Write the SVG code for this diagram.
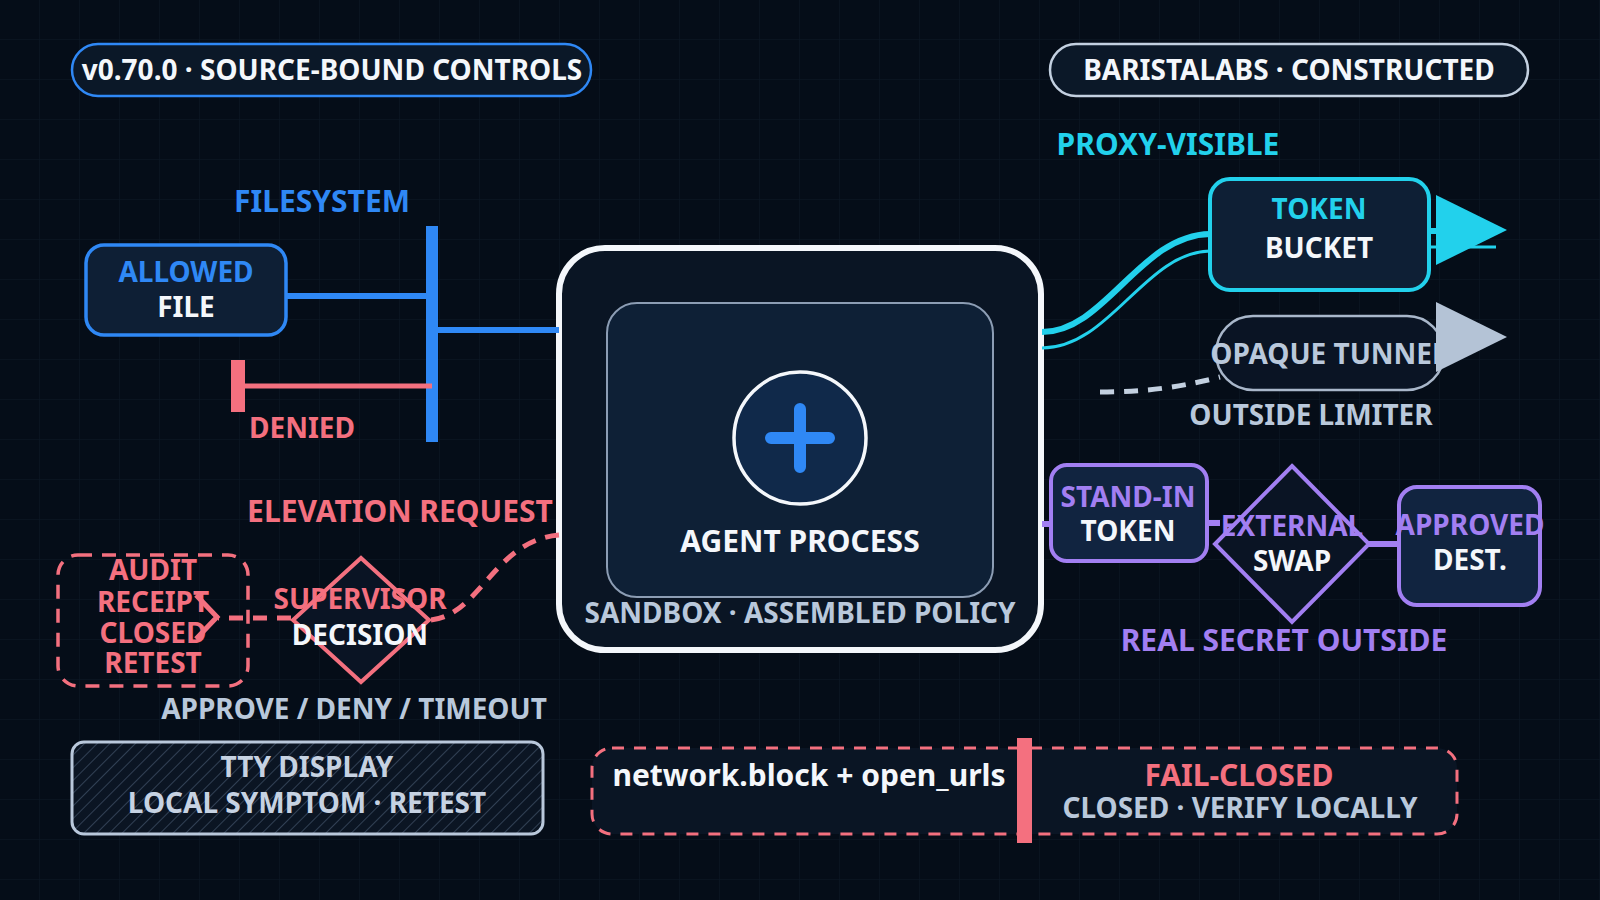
<svg xmlns="http://www.w3.org/2000/svg" width="1600" height="900" viewBox="0 0 1600 900">
<style>
text{font-family:"Noto Sans","Open Sans","DejaVu Sans",sans-serif;font-weight:700;text-anchor:middle}
.t30{font-size:30px}
.t28{font-size:28px}
.white{fill:#f4f7fb}
.blue{fill:#2f88f5}
.red{fill:#f4707f}
.cyan{fill:#22d1ec}
.purple{fill:#a27ff2}
.grey{fill:#b9c8db}
.node{fill:#0e1f35}
.dark{fill:#0a1424}
</style>
<defs>
<pattern id="grid" width="40" height="40" patternUnits="userSpaceOnUse">
<path d="M40 0V40M0 40H40" fill="none" stroke="#0d1927" stroke-width="1"/>
</pattern>
<pattern id="hatch" width="9" height="9" patternUnits="userSpaceOnUse" patternTransform="rotate(45)">
<rect width="9" height="9" fill="#0b1523"/>
<line x1="0" y1="0" x2="0" y2="9" stroke="#3a4b60" stroke-width="1.6"/>
</pattern>
</defs>
<rect width="1600" height="900" fill="#050d18"/>
<rect width="1600" height="900" fill="url(#grid)"/>

<g id="badge-version">
<rect x="72" y="44" width="519" height="52" rx="26" fill="#0b1828" stroke="#2f88f5" stroke-width="2.5"/>
<text class="t28 white" x="332" y="80">v0.70.0 · SOURCE-BOUND CONTROLS</text>
</g>
<g id="badge-brand">
<rect x="1050" y="44" width="478" height="52" rx="26" fill="#0b1828" stroke="#c3d0e0" stroke-width="2.5"/>
<text class="t28 white" x="1289" y="80">BARISTALABS · CONSTRUCTED</text>
</g>

<g id="label-filesystem"><text class="t30 blue" x="322" y="212">FILESYSTEM</text></g>
<g id="allowed-file">
<rect class="node" x="86" y="245" width="200" height="90" rx="18" stroke="#2f88f5" stroke-width="3.5"/>
<text class="t28 blue" x="186" y="282">ALLOWED</text>
<text class="t28 white" x="186" y="317">FILE</text>
</g>
<g id="label-denied"><text class="t28 red" x="302" y="438">DENIED</text></g>

<g id="sandbox">
<rect x="559" y="248" width="482" height="402" rx="46" fill="#0a1524" stroke="#f4f7fb" stroke-width="6"/>
<text class="t28 grey" x="800" y="623">SANDBOX · ASSEMBLED POLICY</text>
</g>
<g id="agent-process">
<rect x="607" y="303" width="386" height="294" rx="30" fill="#0e2036" stroke="#8c9db4" stroke-width="2"/>
<circle cx="800" cy="438" r="66" fill="#10294a" stroke="#f4f7fb" stroke-width="3.5"/>
<path d="M771 438H829M800 409V467" stroke="#2f88f5" stroke-width="12" stroke-linecap="round"/>
<text class="t30 white" x="800" y="552">AGENT PROCESS</text>
</g>

<g id="label-proxy"><text class="t30 cyan" x="1168" y="155">PROXY-VISIBLE</text></g>
<g id="token-bucket">
<rect class="node" x="1210" y="179" width="219" height="111" rx="20" stroke="#22d1ec" stroke-width="4"/>
<text class="t28 cyan" x="1319" y="219">TOKEN</text>
<text class="t28 white" x="1319" y="258">BUCKET</text>
</g>
<g id="opaque-tunnel">
<rect class="dark" x="1216" y="316" width="228" height="74" rx="37" stroke="#a9b7ca" stroke-width="2.5"/>
<text class="t28 grey" x="1329" y="364">OPAQUE TUNNEL</text>
</g>
<g id="label-outside"><text class="t28 grey" x="1311" y="425">OUTSIDE LIMITER</text></g>

<g id="stand-in-token">
<rect x="1051" y="465" width="156" height="96" rx="16" fill="#112440" stroke="#a27ff2" stroke-width="4"/>
<text class="t28 purple" x="1128" y="507">STAND-IN</text>
<text class="t28 white" x="1128" y="541">TOKEN</text>
</g>
<g id="external-swap">
<path class="dark" d="M1292 466L1369 544L1292 622L1215 544Z" stroke="#a27ff2" stroke-width="4"/>
<text class="t28 purple" x="1292" y="536">EXTERNAL</text>
<text class="t28 white" x="1292" y="571">SWAP</text>
</g>
<g id="approved-dest">
<rect x="1399" y="487" width="141" height="118" rx="18" fill="#112440" stroke="#a27ff2" stroke-width="4"/>
<text class="t28 purple" x="1470" y="535">APPROVED</text>
<text class="t28 white" x="1470" y="570">DEST.</text>
</g>
<g id="label-secret"><text class="t30 purple" x="1284" y="651">REAL SECRET OUTSIDE</text></g>

<g id="label-elevation"><text class="t30 red" x="400" y="522">ELEVATION REQUEST</text></g>
<g id="audit-receipt">
<rect x="58" y="555" width="190" height="131" rx="20" fill="none" stroke="#f4707f" stroke-width="3.5" stroke-dasharray="14 10"/>
<text class="t28 red" x="153" y="580">AUDIT</text>
<text class="t28 red" x="153" y="612">RECEIPT</text>
<text class="t28 red" x="153" y="643">CLOSED</text>
<text class="t28 red" x="153" y="673">RETEST</text>
</g>
<g id="supervisor-decision">
<path class="dark" d="M361 558L429 620L361 682L293 620Z" stroke="#f4707f" stroke-width="4"/>
<text class="t28 red" x="360" y="609">SUPERVISOR</text>
<text class="t28 white" x="360" y="645">DECISION</text>
</g>
<g id="label-approve"><text class="t28 grey" x="354" y="719">APPROVE / DENY / TIMEOUT</text></g>

<g id="tty-display">
<rect x="72" y="742" width="471" height="92" rx="12" fill="url(#hatch)" stroke="#b9c8db" stroke-width="3"/>
<text class="t28" fill="#c6d2e2" x="307" y="777">TTY DISPLAY</text>
<text class="t28" fill="#c6d2e2" x="307" y="813">LOCAL SYMPTOM · RETEST</text>
</g>
<g id="fail-closed">
<rect x="592" y="748" width="865" height="86" rx="20" fill="#0a1524" stroke="#f4707f" stroke-width="3" stroke-dasharray="12 10"/>
<rect x="1017" y="738" width="15" height="105" fill="#f4707f"/>
<text class="t30 white" x="809" y="786">network.block + open_urls</text>
<text class="t30 red" x="1239" y="786">FAIL-CLOSED</text>
<text class="t28 grey" x="1240" y="818">CLOSED · VERIFY LOCALLY</text>
</g>

<g id="connectors" fill="none">
<rect x="426" y="226" width="12" height="216" fill="#2f88f5"/>
<path d="M287 296H430" stroke="#2f88f5" stroke-width="6"/>
<path d="M438 330H559" stroke="#2f88f5" stroke-width="6"/>
<path d="M245 386H432" stroke="#f4707f" stroke-width="5"/>
<rect x="231" y="360" width="14" height="52" fill="#f4707f"/>
<path d="M1042 332C1105 332 1140 235 1210 234" stroke="#22d1ec" stroke-width="6"/>
<path d="M1042 348C1110 348 1145 252 1210 251" stroke="#22d1ec" stroke-width="3"/>
<path d="M1429 231H1440" stroke="#22d1ec" stroke-width="6"/>
<path d="M1429 247H1496" stroke="#22d1ec" stroke-width="3"/>
<polygon points="1436,195 1507,230 1436,265" fill="#22d1ec"/>
<path d="M1100 392C1150 392 1185 386 1220 377" stroke="#c3d0e0" stroke-width="5" stroke-dasharray="14 10"/>
<polygon points="1436,302 1507,337 1436,372" fill="#b4c3d6"/>
<path d="M1042 524H1053" stroke="#a27ff2" stroke-width="6"/>
<path d="M1205 523H1220" stroke="#a27ff2" stroke-width="6"/>
<path d="M1367 544H1400" stroke="#a27ff2" stroke-width="6"/>
<path d="M559 535C495 540 480 615 431 620" stroke="#f4707f" stroke-width="5" stroke-dasharray="14 10"/>
<path d="M291 618H218" stroke="#f4707f" stroke-width="5" stroke-dasharray="14 10"/>
<polyline points="196,595 217,617 196,639" stroke="#f4707f" stroke-width="5"/>
</g>
</svg>
